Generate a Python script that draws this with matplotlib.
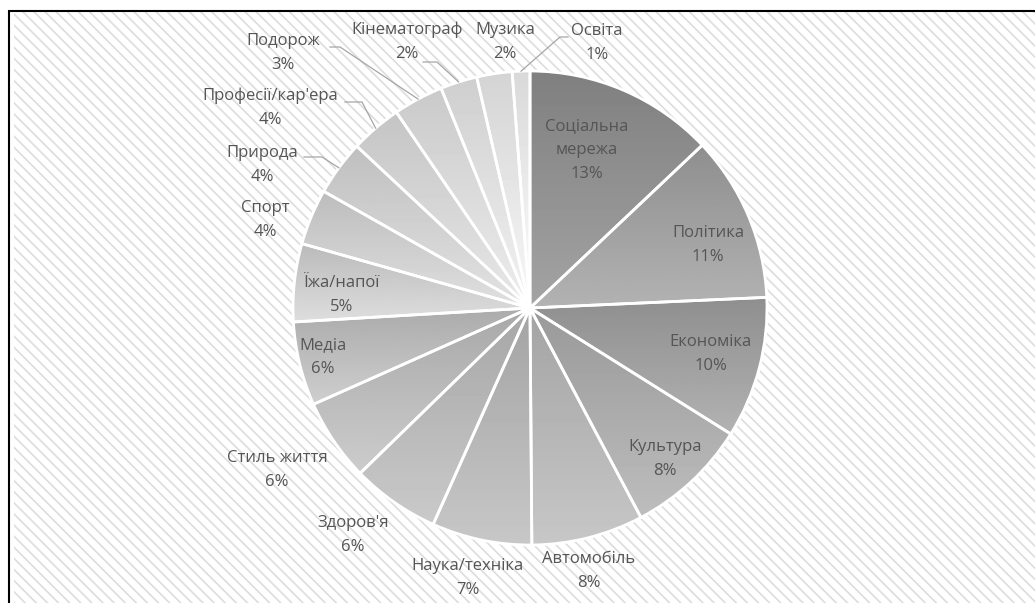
import numpy as np
import matplotlib
matplotlib.use("Agg")
import matplotlib.pyplot as plt
from matplotlib.patches import Rectangle

topics = ["Соціальна\nмережа", "Політика", "Економіка", "Культура", "Автомобіль",
          "Наука/техніка", "Здоров'я", "Стиль життя", "Медіа", "Їжа/напої", "Спорт",
          "Природа", "Професії/кар'ера", "Подорож", "Кінематограф", "Музика", "Освіта"]
shares = [12.9, 11.3, 9.6, 8.3, 7.6, 6.8, 6.0, 5.6, 5.7, 5.3, 3.8,
          3.75, 3.5, 3.4, 2.5, 2.4, 1.2]
pct_labels = ["13%", "11%", "10%", "8%", "8%", "7%", "6%", "6%", "6%", "5%", "4%",
              "4%", "4%", "3%", "2%", "2%", "1%"]

# layout (pixel positions in the 1035x603 canvas)
W, H = 1035, 603
CX, CY, R = 530, 308, 237
label_px = [(587, 150), (708, 245), (711, 354), (665, 459), (589, 571),
            (468, 578), (353, 535), (277, 470), (323, 357), (342, 295), (265, 220),
            (262, 165), (270, 108), (283, 53), (407, 42), (505, 42), (597, 43)]
# leader elbows: (start of line near label, elbow)
leaders = {11: [(304, 157), (322, 157)], 12: [(345, 102), (362, 102)],
           13: [(330, 47), (340, 47)], 14: [(423, 62), (437, 62)],
           16: [(568, 37), (560, 37)]}
# grey level of each slice (gradient runs darker at top, lighter at bottom)
tones = [0.57, 0.63, 0.63, 0.67, 0.71, 0.71, 0.72, 0.73, 0.74, 0.80, 0.81,
         0.82, 0.84, 0.86, 0.88, 0.90, 0.92]


def to_data(p):
    return (p[0] - CX) / R, (CY - p[1]) / R


plt.rcParams["font.family"] = ["Open Sans", "DejaVu Sans"]
plt.rcParams["hatch.linewidth"] = 1.2

fig = plt.figure(figsize=(W / 100, H / 100), dpi=100)
fig.patch.set_facecolor("white")
# hatched chart area, frame visible only top and left
fig.patches.append(Rectangle((14 / W, -0.1), 1.1, (H - 12) / H + 0.1, transform=fig.transFigure,
                             facecolor="white", edgecolor="#dddddd", linewidth=0,
                             hatch="\\\\\\", zorder=-2))
fig.patches.append(Rectangle((9 / W, -0.1), 1.1, (H - 11) / H + 0.1, transform=fig.transFigure,
                             facecolor="none", edgecolor="black", linewidth=1.5, zorder=-1))

ax = fig.add_axes([0, 0, 1, 1])
ax.patch.set_visible(False)
wedges, _ = ax.pie(shares, startangle=90, counterclock=False, radius=1,
                   wedgeprops=dict(edgecolor="white", linewidth=2))

for w, c in zip(wedges, tones):
    a = np.radians(np.linspace(w.theta1, w.theta2, 60))
    xs = np.concatenate([[0], np.cos(a)])
    ys = np.concatenate([[0], np.sin(a)])
    grad = np.linspace(c - 0.07, c + 0.07, 64).reshape(-1, 1)
    im = ax.imshow(grad, cmap="gray", vmin=0, vmax=1, origin="upper", aspect="auto",
                   extent=(xs.min(), xs.max(), ys.min(), ys.max()),
                   interpolation="bilinear", zorder=1)
    im.set_clip_path(w)
    w.set_facecolor("none")
    w.set_zorder(2)

for i, (name, pct) in enumerate(zip(topics, pct_labels)):
    x, y = to_data(label_px[i])
    ax.text(x, y, f"{name}\n{pct}", ha="center", va="center", fontsize=12,
            color="#555555", linespacing=1.68, zorder=4)

for i, pts in leaders.items():
    w = wedges[i]
    mid = np.radians((w.theta1 + w.theta2) / 2)
    (x0, y0), (x1, y1) = to_data(pts[0]), to_data(pts[1])
    ax.plot([x0, x1, np.cos(mid)], [y0, y1, np.sin(mid)], color="#a6a6a6",
            linewidth=0.9, zorder=3)

ax.set_xlim(-CX / R, (W - CX) / R)
ax.set_ylim((CY - H) / R, CY / R)
ax.set_aspect("equal")
ax.axis("off")

fig.savefig("out.png", dpi=100)
